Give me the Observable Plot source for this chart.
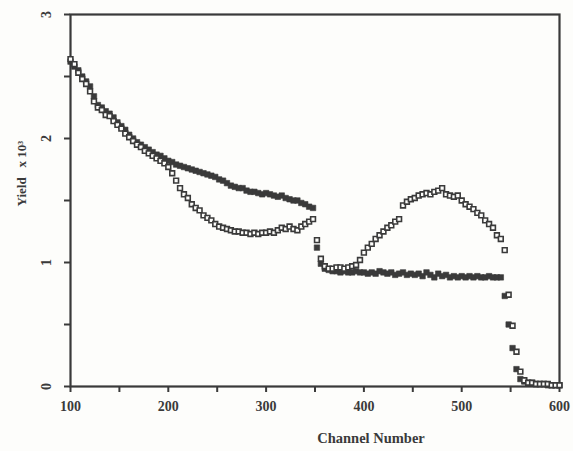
<!DOCTYPE html>
<html>
<head>
<meta charset="utf-8">
<script src="https://cdn.jsdelivr.net/npm/d3@7"></script>
<script src="https://cdn.jsdelivr.net/npm/@observablehq/plot@0.6"></script>
<style>
  html, body { margin: 0; padding: 0; background: #fdfdfb; }
  #chart { width: 573px; height: 451px; }
</style>
</head>
<body>
<div id="chart"></div>
<script>
const channels = [100,104,108,112,116,120,124,128,132,136,140,144,148,152,156,160,164,168,172,176,180,184,188,192,196,200,204,208,212,216,220,224,228,232,236,240,244,248,252,256,260,264,268,272,276,280,284,288,292,296,300,304,308,312,316,320,324,328,332,336,340,344,348,352,356,360,364,368,372,376,380,384,388,392,396,400,404,408,412,416,420,424,428,432,436,440,444,448,452,456,460,464,468,472,476,480,484,488,492,496,500,504,508,512,516,520,524,528,532,536,540,544,548,552,556,560,564,568,572,576,580,584,588,592,596,600];

const yieldFilled = [2.62,2.58,2.55,2.50,2.46,2.42,2.34,2.27,2.25,2.22,2.20,2.17,2.13,2.10,2.07,2.03,2.00,1.97,1.95,1.93,1.91,1.89,1.87,1.86,1.84,1.82,1.81,1.79,1.78,1.77,1.76,1.75,1.74,1.73,1.72,1.71,1.70,1.69,1.67,1.66,1.64,1.62,1.61,1.60,1.60,1.58,1.57,1.57,1.56,1.55,1.56,1.55,1.54,1.53,1.54,1.52,1.51,1.50,1.50,1.48,1.47,1.45,1.44,1.12,0.99,0.95,0.94,0.93,0.93,0.92,0.93,0.92,0.92,0.93,0.92,0.92,0.91,0.92,0.91,0.93,0.92,0.91,0.92,0.90,0.91,0.92,0.90,0.91,0.90,0.91,0.89,0.92,0.90,0.88,0.91,0.89,0.90,0.88,0.89,0.88,0.89,0.88,0.89,0.88,0.89,0.88,0.88,0.89,0.88,0.88,0.88,0.73,0.50,0.31,0.14,0.06,0.04,0.03,0.03,0.02,0.02,0.02,0.01,0.01,0.01,0.01];

const yieldOpen = [2.64,2.60,2.53,2.48,2.44,2.38,2.30,2.25,2.23,2.19,2.18,2.14,2.11,2.08,2.04,2.01,1.98,1.95,1.93,1.90,1.88,1.86,1.84,1.82,1.80,1.77,1.72,1.66,1.60,1.55,1.52,1.47,1.44,1.42,1.38,1.36,1.34,1.31,1.29,1.28,1.27,1.26,1.25,1.25,1.24,1.24,1.23,1.24,1.23,1.24,1.24,1.25,1.24,1.26,1.28,1.27,1.29,1.27,1.26,1.29,1.31,1.33,1.35,1.18,1.03,0.97,0.95,0.95,0.96,0.96,0.95,0.96,0.97,0.98,1.02,1.08,1.12,1.15,1.19,1.22,1.25,1.28,1.30,1.33,1.35,1.46,1.49,1.51,1.52,1.54,1.55,1.56,1.55,1.57,1.58,1.60,1.55,1.54,1.53,1.54,1.50,1.47,1.45,1.43,1.40,1.38,1.34,1.31,1.28,1.22,1.19,1.10,0.74,0.49,0.28,0.12,0.05,0.03,0.03,0.02,0.02,0.02,0.02,0.01,0.01,0.01];

const xTicks = [100,150,200,250,300,350,400,450,500,550,600];
const xTickLabels = ["100","","200","","300","","400","","500","","600"];
const yTicks = [0,0.5,1,1.5,2,2.5,3];
const yTickLabels = ["0","","1","","2","","3"];
const xTitle = "Channel Number";
const yTitle = "Yield   x 10³";

const filled = channels.map((c, i) => ({channel: c, value: yieldFilled[i]}));
const open = channels.map((c, i) => ({channel: c, value: yieldOpen[i]}));

const ink = "#3a3a3a";
const paper = "#fdfdfb";
const fontFam = "'Liberation Serif', 'DejaVu Serif', serif";

const chart = Plot.plot({
  width: 573,
  height: 451,
  marginLeft: 70,
  marginRight: 14,
  marginTop: 14,
  marginBottom: 65,
  style: {background: paper, fontFamily: fontFam, color: ink},
  x: {domain: [100, 600]},
  y: {domain: [0, 3]},
  marks: [
    Plot.frame({stroke: ink, strokeWidth: 2.2}),
    Plot.axisX({
      ticks: xTicks, tickSize: 6, tickPadding: 9, stroke: ink, strokeWidth: 2,
      tickFormat: (d) => xTickLabels[xTicks.indexOf(d)],
      fontSize: 14, fontWeight: "bold", label: null
    }),
    Plot.axisY({
      ticks: yTicks, tickSize: 6, tickPadding: 14, stroke: ink, strokeWidth: 2,
      tickFormat: (d) => yTickLabels[yTicks.indexOf(d)],
      tickRotate: -90, fontSize: 14, fontWeight: "bold", label: null
    }),
    Plot.dot(filled, {x: "channel", y: "value", symbol: "square", r: 3.1, fill: ink, stroke: ink, strokeWidth: 0.6}),
    Plot.dot(open, {x: "channel", y: "value", symbol: "square", r: 2.7, fill: paper, stroke: ink, strokeWidth: 1.6}),
    Plot.text([xTitle], {frameAnchor: "bottom", dx: 56, dy: 56, text: d => d, fontSize: 14.5, fontWeight: "bold", fill: ink}),
    Plot.text([yTitle], {frameAnchor: "left", dx: -49, dy: 6, rotate: -90, text: d => d, fontSize: 13, fontWeight: "bold", fill: ink})
  ]
});
document.getElementById("chart").appendChild(chart);
</script>
</body>
</html>
